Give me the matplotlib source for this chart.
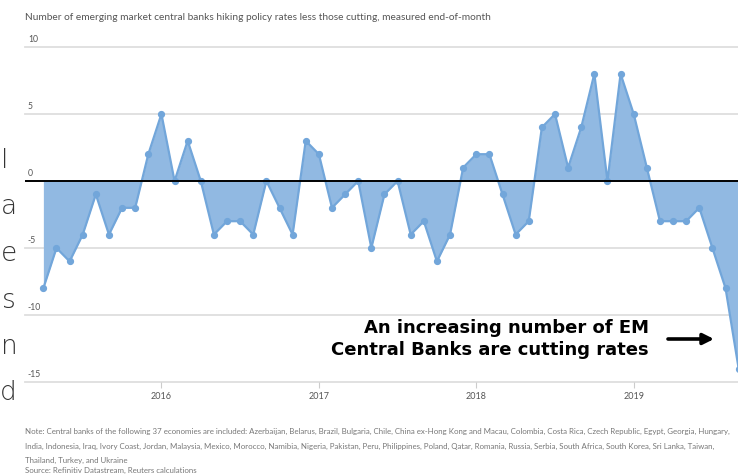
import matplotlib
matplotlib.use("Agg")
import matplotlib.pyplot as plt
import numpy as np

# ---- data ----
months = ["2015-04", "2015-05", "2015-06", "2015-07", "2015-08", "2015-09", "2015-10", "2015-11", "2015-12",
          "2016-01", "2016-02", "2016-03", "2016-04", "2016-05", "2016-06", "2016-07", "2016-08", "2016-09",
          "2016-10", "2016-11", "2016-12",
          "2017-01", "2017-02", "2017-03", "2017-04", "2017-05", "2017-06", "2017-07", "2017-08", "2017-09",
          "2017-10", "2017-11", "2017-12",
          "2018-01", "2018-02", "2018-03", "2018-04", "2018-05", "2018-06", "2018-07", "2018-08", "2018-09",
          "2018-10", "2018-11", "2018-12",
          "2019-01", "2019-02", "2019-03", "2019-04", "2019-05", "2019-06", "2019-07", "2019-08", "2019-09"]
net_hikes = [-8, -5, -6, -4, -1, -4, -2, -2, 2,
             5, 0, 3, 0, -4, -3, -3, -4, 0, -2, -4, 3,
             2, -2, -1, 0, -5, -1, 0, -4, -3, -6, -4, 1,
             2, 2, -1, -4, -3, 4, 5, 1, 4, 8, 0, 8,
             5, 1, -3, -3, -3, -2, -5, -8, -14]
year_labels = ["2016", "2017", "2018", "2019"]
y_ticks = [10, 5, 0, -5, -10, -15]

title = "Number of emerging market central banks hiking policy rates less those cutting, measured end-of-month"
note_lines = [
    "Note: Central banks of the following 37 economies are included: Azerbaijan, Belarus, Brazil, Bulgaria, Chile, China ex-Hong Kong and Macau, Colombia, Costa Rica, Czech Republic, Egypt, Georgia, Hungary,",
    "India, Indonesia, Iraq, Ivory Coast, Jordan, Malaysia, Mexico, Morocco, Namibia, Nigeria, Pakistan, Peru, Philippines, Poland, Qatar, Romania, Russia, Serbia, South Africa, South Korea, Sri Lanka, Taiwan,",
    "Thailand, Turkey, and Ukraine",
    "Source: Refinitiv Datastream, Reuters calculations",
]
annotation = "An increasing number of EM\nCentral Banks are cutting rates"
side_letters = ["l", "a", "e", "s", "n", "d"]

# ---- figure ----
W, H = 738, 474
fig = plt.figure(figsize=(W / 100, H / 100), dpi=100)
fig.patch.set_facecolor("white")

def fx(px):
    return px / W

def fy(py):
    return 1 - py / H

ax = fig.add_axes([fx(25), fy(382), 1 - fx(25), fy(47) - fy(382)])
x = np.arange(len(net_hikes))
y = np.array(net_hikes, dtype=float)

fill_c = "#91b9e2"
line_c = "#72a6da"
ax.fill_between(x, y, 0, color=fill_c, linewidth=0, zorder=2)
ax.plot(x, y, color=line_c, lw=1.6, marker="o", ms=4.2, zorder=3)
ax.axhline(0, color="black", lw=1.4, zorder=4)
for v in [10, 5, -5, -10, -15]:
    ax.axhline(v, color="#dedede", lw=1.3, zorder=1, clip_on=False)

ax.set_ylim(-15, 10)
ax.set_xlim(-1.4, 52.95)
for s in ax.spines.values():
    s.set_visible(False)
ax.set_yticks([])

year_pos = [months.index(y_ + "-01") for y_ in year_labels]
ax.set_xticks(year_pos)
ax.set_xticklabels(year_labels, fontsize=6.5, color="#555555", family="Lato")
ax.tick_params(axis="x", length=4, width=0.8, color="#cccccc", pad=3)

for v in y_ticks:
    ax.annotate(str(v), xy=(0.004, v), xycoords=("axes fraction", "data"),
                xytext=(0, 2), textcoords="offset points",
                ha="left", va="bottom", fontsize=6.2, color="#555555", family="Lato")

# title
fig.text(fx(25), fy(17), title, ha="left", va="center", fontsize=7.3, color="#555555", family="Lato")

# notes
note_y = [431, 446, 460, 470]
for ln, py in zip(note_lines, note_y):
    fig.text(fx(25), fy(py), ln, ha="left", va="center", fontsize=5.7, color="#777777", family="Lato")

# annotation
fig.text(fx(649), fy(339), annotation, ha="right", va="center", fontsize=13, fontweight="bold",
         color="black", family="DejaVu Sans", linespacing=1.35)
ax.annotate("", xy=(714, H - 339), xycoords="figure pixels",
            xytext=(668, H - 339), textcoords="figure pixels",
            arrowprops=dict(arrowstyle="-|>", lw=2.6, color="black", mutation_scale=16,
                            shrinkA=0, shrinkB=0))

# cut-off slide letters on the left edge
letter_base = [168, 214.5, 261, 307.5, 354, 400.5]
letter_right = [8, 17, 17, 16, 18, 17]
for ch, py, pr in zip(side_letters, letter_base, letter_right):
    fig.text(fx(pr), fy(py), ch, ha="right", va="baseline", fontsize=19, color="#333333",
             family="DejaVu Sans", fontweight="light")

fig.savefig("out.png", dpi=100, facecolor="white")
